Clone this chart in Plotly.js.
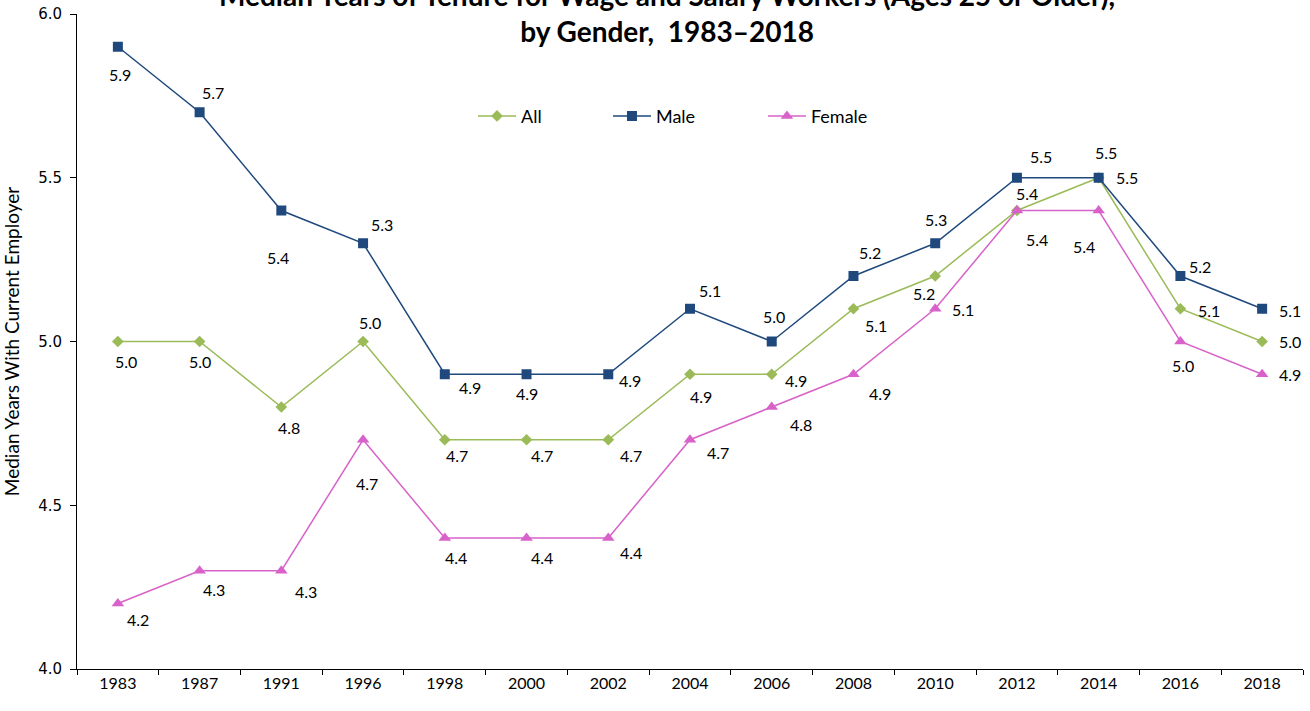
<!DOCTYPE html>
<html>
<head>
<meta charset="utf-8">
<script src="https://cdn.plot.ly/plotly-3.0.1.min.js"></script>
<style>html,body{margin:0;padding:0;background:#fff;}#chart{width:1310px;height:711px;}</style>
</head>
<body>
<div id="chart"></div>
<script>
const years = ["1983","1987","1991","1996","1998","2000","2002","2004","2006","2008","2010","2012","2014","2016","2018"];
const allWorkers = [5.0,5.0,4.8,5.0,4.7,4.7,4.7,4.9,4.9,5.1,5.2,5.4,5.5,5.1,5.0];
const male = [5.9,5.7,5.4,5.3,4.9,4.9,4.9,5.1,5.0,5.2,5.3,5.5,5.5,5.2,5.1];
const female = [4.2,4.3,4.3,4.7,4.4,4.4,4.4,4.7,4.8,4.9,5.1,5.4,5.4,5.0,4.9];

// label offsets in screen pixels [dx, dy(down)]
const allOff = [[8,20],[0,20],[8,20],[7,-19],[12,16],[15,16],[23,16],[11,22],[24,6],[23,17],[-11,17],[10,-17],[28,0],[29,2],[28,0]];
const maleOff = [[2,28],[13,-20],[-3,47],[19,-19],[25,13],[0,19],[22,6],[20,-18],[2,-25],[17,-24],[1,-24],[24,-21],[7,-25],[20,-10],[28,2]];
const femaleOff = [[20,16],[14,19],[25,21],[4,44],[11,19],[15,19],[23,14],[28,13],[29,17],[27,19],[28,1],[20,29],[-15,36],[3,24],[28,0]];

const cGreen = "#9BBB59", cBlue = "#1F497D", cPink = "#D862C9";
const FONT = "Lato, 'Open Sans', sans-serif";
const labelFont = {family: FONT, size: 16, color: "#000"};

const traces = [
  {x: years, y: allWorkers, name: "All", type: "scatter", mode: "lines+markers", legend: "legend",
   line: {color: cGreen, width: 1.5}, marker: {symbol: "diamond", size: 9, color: cGreen}},
  {x: years, y: male, name: "Male", type: "scatter", mode: "lines+markers", legend: "legend2",
   line: {color: cBlue, width: 1.5}, marker: {symbol: "square", size: 10, color: cBlue}},
  {x: years, y: female, name: "Female", type: "scatter", mode: "lines+markers", legend: "legend3",
   line: {color: cPink, width: 1.5}, marker: {symbol: "triangle-up", size: 11, color: cPink}}
];

const annotations = [];
function addLabels(vals, offs) {
  vals.forEach((v, i) => {
    // category axes take the category's serial number
    annotations.push({x: i, y: v, xref: "x", yref: "y", text: v.toFixed(1), showarrow: false,
      xshift: offs[i][0], yshift: -offs[i][1], font: labelFont, xanchor: "center", yanchor: "middle"});
  });
}
addLabels(allWorkers, allOff);
addLabels(male, maleOff);
addLabels(female, femaleOff);

annotations.push({
  xref: "paper", yref: "paper", x: 0.481, y: 1, yshift: 1, xanchor: "center", yanchor: "middle",
  showarrow: false,
  text: "<b>Median Years of Tenure for Wage and Salary Workers (Ages 25 or Older),</b><br><b>by Gender,  1983–2018</b>",
  font: {family: FONT, size: 28, color: "#000"}
});

function legendAt(x) {
  return {orientation: "h", x: x, xanchor: "left", y: 0.844, yanchor: "middle",
    font: {family: FONT, size: 18, color: "#000"}, itemwidth: 38, bgcolor: "rgba(0,0,0,0)"};
}

const layout = {
  width: 1310, height: 711,
  margin: {l: 77, r: 7, t: 14, b: 42},
  paper_bgcolor: "#fff", plot_bgcolor: "#fff",
  showlegend: true,
  legend: legendAt(0.323),
  legend2: legendAt(0.4331),
  legend3: legendAt(0.5595),
  xaxis: {type: "category", range: [-0.5, 14.5], showgrid: false, zeroline: false,
    showline: true, linecolor: "#000", linewidth: 1,
    ticks: "outside", ticklen: 5, tickcolor: "#000", tickson: "boundaries",
    tickfont: {family: FONT, size: 16, color: "#000"}},
  yaxis: {range: [4.0, 6.0], dtick: 0.5, tickformat: ".1f", showgrid: false, zeroline: false,
    showline: true, linecolor: "#000", linewidth: 1,
    ticks: "outside", ticklen: 6, tickcolor: "#000", ticklabelstandoff: 5,
    tickfont: {family: "'DejaVu Sans', Verdana, sans-serif", size: 15, color: "#000"},
    title: {text: "Median Years With Current Employer", standoff: 14,
      font: {family: FONT, size: 19, color: "#000"}}},
  annotations: annotations
};

Plotly.newPlot("chart", traces, layout, {displayModeBar: false, staticPlot: true});
</script>
</body>
</html>
